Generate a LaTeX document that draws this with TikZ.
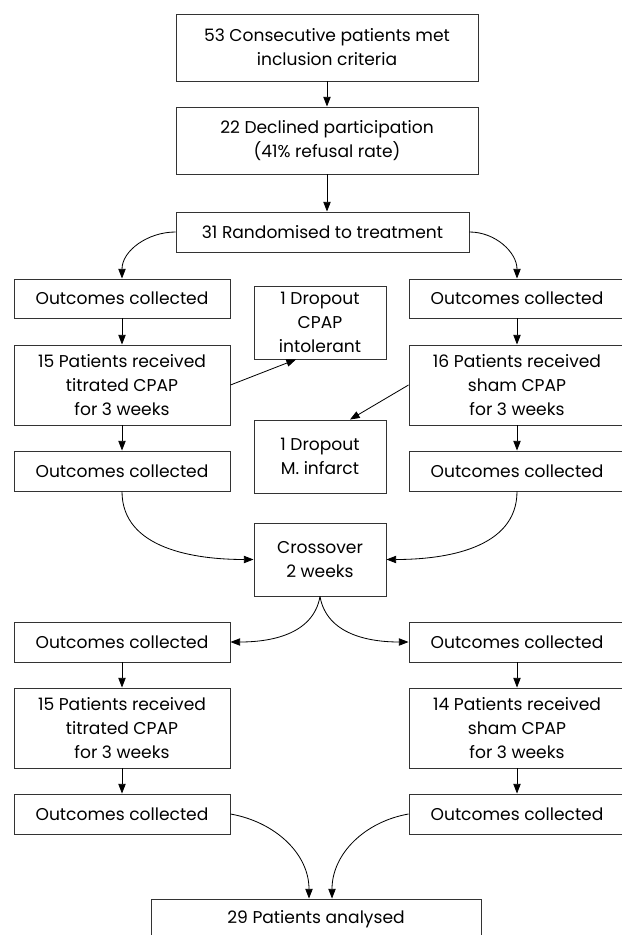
\documentclass[tikz,border=0pt]{standalone}
\usepackage{fontspec}
\setmainfont{Poppins}
\usetikzlibrary{arrows.meta}
\definecolor{boxline}{HTML}{333333}

\begin{document}
\begin{tikzpicture}[x=.03cm,y=-.03cm,font=\fontsize{14.6}{20.5}\selectfont,
  box/.style={draw=boxline,line width=.8pt,align=center,inner sep=0pt},
  wide/.style={box,minimum width=6.48cm},
  flow/.style={-{Triangle[length=2.9mm,width=2.2mm]},line width=.7pt}]
\useasboundingbox (0,0) rectangle (621,935);
% enrolment
\node[box,minimum width=9.06cm,minimum height=2.01cm] (met) at (327,47.5) {53 Consecutive patients met\\inclusion criteria};
\node[box,minimum width=9.06cm,minimum height=2.01cm] (declined) at (327,140.5) {22 Declined participation\\(41\% refusal rate)};
\node[box,minimum width=8.79cm,minimum height=1.2cm] (rand) at (322.5,232) {31 Randomised to treatment};
% first period: two arms
\foreach \side/\x/\n/\arm in {L/122/15/titrated,R/517/16/sham}{
  \node[wide,minimum height=1.17cm] (\side1) at (\x,298.5) {Outcomes collected};
  \node[wide,minimum height=2.4cm] (\side2) at (\x,385) {\n\ Patients received\\\arm\ CPAP\\for 3 weeks};
  \node[wide,minimum height=1.2cm] (\side3) at (\x,471) {Outcomes collected};
  \draw[flow] (\side1) -- (\side2);
  \draw[flow] (\side2) -- (\side3);
}
\node[box,minimum width=3.96cm,minimum height=2.19cm] (drop1) at (320,322.5) {1 Dropout\\CPAP\\intolerant};
\node[box,minimum width=3.96cm,minimum height=2.19cm] (drop2) at (320,456.5) {1 Dropout\\M. infarct};
\node[box,minimum width=3.96cm,minimum height=2.19cm] (cross) at (320,559.5) {Crossover\\2 weeks};
% second period after crossover
\foreach \side/\x/\n/\arm in {L/122/15/titrated,R/517/14/sham}{
  \node[wide,minimum height=1.2cm] (\side4) at (\x,642) {Outcomes collected};
  \node[wide,minimum height=2.4cm] (\side5) at (\x,728) {\n\ Patients received\\\arm\ CPAP\\for 3 weeks};
  \node[wide,minimum height=1.2cm] (\side6) at (\x,814) {Outcomes collected};
  \draw[flow] (\side4) -- (\side5);
  \draw[flow] (\side5) -- (\side6);
}
\node[box,minimum width=9.9cm,minimum height=1.2cm] (final) at (316,919) {29 Patients analysed};
% connectors
\draw[flow] (met) -- (declined);
\draw[flow] (declined.south) -- (declined.south |- rand.north);
\draw[flow] (rand.west) to[out=180,in=90] (L1.north);
\draw[flow] (rand.east) to[out=0,in=90] (R1.north);
\draw[flow] (L2.east) -- ([xshift=-.72cm]drop1.south);
\draw[flow] (R2.west) -- ([xshift=.9cm]drop2.north);
\draw[flow] (L3.south) to[out=270,in=180] (cross.west);
\draw[flow] (R3.south) to[out=270,in=0] (cross.east);
\draw[flow] (cross.south) to[out=260,in=0] (L4.east);
\draw[flow] (cross.south) to[out=280,in=180] (R4.west);
\draw[flow] (L6.east) to[out=-10,in=90] ([xshift=-.21cm]final.north);
\draw[flow] (R6.west) to[out=190,in=90] ([xshift=.48cm]final.north);
\end{tikzpicture}
\end{document}
